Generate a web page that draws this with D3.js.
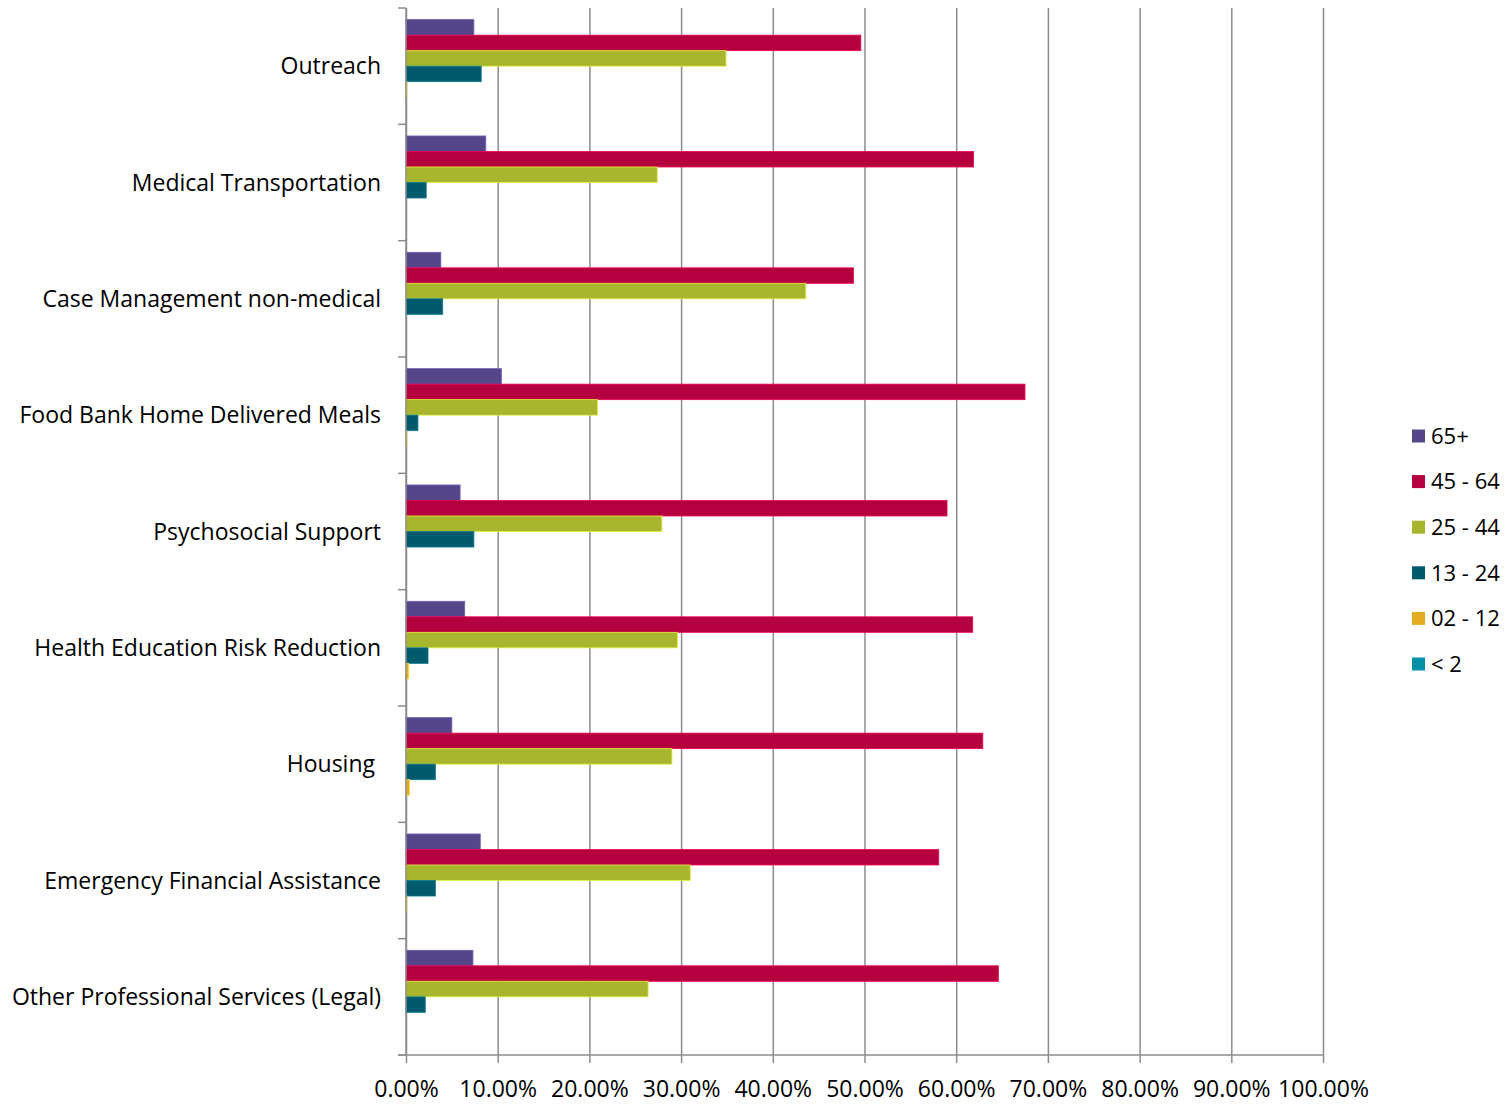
<!DOCTYPE html>
<html>
<head>
<meta charset="utf-8">
<script src="https://cdn.jsdelivr.net/npm/d3@7"></script>
<style>
  body { margin: 0; background: #fff; }
  text { font-family: 'Open Sans', 'Noto Sans', sans-serif; fill: #000; }
</style>
</head>
<body>
<svg id="chart" width="1506" height="1105"></svg>
<script>
// categories, top to bottom
const categories = [
  'Outreach',
  'Medical Transportation',
  'Case Management non-medical',
  'Food Bank Home Delivered Meals',
  'Psychosocial Support',
  'Health Education Risk Reduction',
  'Housing ',
  'Emergency Financial Assistance',
  'Other Professional Services (Legal)'
]
const seriesNames = ['65+', '45 - 64', '25 - 44', '13 - 24', '02 - 12', '< 2']
const seriesColors = ['#55468a', '#b5003f', '#a8b52f', '#005a6c', '#e6ab25', '#0090a8']

// percent values per series, in category order
const age65 = [7.4, 8.7, 3.8, 10.4, 5.9, 6.4, 5.0, 8.1, 7.3]
const age45 = [49.6, 61.9, 48.8, 67.5, 59.0, 61.8, 62.9, 58.1, 64.6]
const age25 = [34.9, 27.4, 43.6, 20.9, 27.9, 29.6, 29.0, 31.0, 26.4]
const age13 = [8.2, 2.2, 4.0, 1.3, 7.4, 2.4, 3.2, 3.2, 2.1]
const age02 = [0.1, 0, 0, 0.1, 0, 0.3, 0.4, 0.1, 0]
const ageLt2 = [0, 0, 0, 0, 0, 0, 0, 0, 0]
const seriesValues = [age65, age45, age25, age13, age02, ageLt2]

const xTicks = [0, 10, 20, 30, 40, 50, 60, 70, 80, 90, 100]

const margin = { left: 406, top: 8 }
const gridWidth = 917
const gridHeight = 1047

const svg = d3.select('#chart')
const g = svg.append('g').attr('transform', `translate(${margin.left}, ${margin.top})`)

const x = d3.scaleLinear().domain([0, 100]).range([0, gridWidth])
const y = d3.scaleBand().domain(categories).range([0, gridHeight]).padding(0)
const ySub = d3.scaleBand().domain(seriesNames).range([0, y.bandwidth()])
  .paddingInner(0).paddingOuter(0.75)

// vertical grid lines + x axis
const xaxis = d3.axisBottom(x).tickValues(xTicks).tickSize(8).tickSizeOuter(0)
  .tickFormat(d => d.toFixed(2) + '%')
const xaxisg = g.append('g')
  .attr('transform', `translate(0, ${gridHeight})`)
  .call(xaxis)
xaxisg.select('.domain').remove()
xaxisg.selectAll('g.tick line').style('stroke', '#8c8c8c').style('stroke-width', 1.5)
xaxisg.selectAll('g.tick')
  .append('line')
  .attr('y1', 0)
  .attr('y2', -gridHeight)
  .style('stroke', '#8c8c8c')
  .style('stroke-width', 1.5)
xaxisg.selectAll('g.tick text')
  .attr('y', 26)
  .attr('dy', '0.71em')
  .style('font-size', '23px')

// horizontal baseline
g.append('line')
  .attr('x1', -8).attr('x2', gridWidth)
  .attr('y1', gridHeight).attr('y2', gridHeight)
  .style('stroke', '#8c8c8c').style('stroke-width', 1.5)

// bars
const groups = g.selectAll('g.cat')
  .data(categories)
  .enter()
  .append('g')
  .classed('cat', true)
  .attr('transform', d => `translate(0, ${y(d)})`)

groups.selectAll('rect')
  .data((d, i) => seriesNames.map((s, j) => ({ s, j, v: seriesValues[j][i] })))
  .enter()
  .append('rect')
  .attr('x', 0)
  .attr('y', d => ySub(d.s))
  .attr('width', d => x(d.v))
  .attr('height', ySub.bandwidth())
  .style('fill', d => seriesColors[d.j])
  .style('stroke', d => d3.color(seriesColors[d.j]).brighter(0.8))
  .style('stroke-width', d => d.v > 0 ? 0.8 : 0)

// left axis with ticks at band boundaries
g.append('line')
  .attr('x1', 0).attr('x2', 0)
  .attr('y1', 0).attr('y2', gridHeight)
  .style('stroke', '#8c8c8c').style('stroke-width', 1.5)
g.selectAll('line.ytick')
  .data(d3.range(categories.length + 1))
  .enter()
  .append('line')
  .classed('ytick', true)
  .attr('x1', -8).attr('x2', 0)
  .attr('y1', d => d * y.step()).attr('y2', d => d * y.step())
  .style('stroke', '#8c8c8c').style('stroke-width', 1.5)

// labels keep their trailing space, like "Housing "
g.selectAll('text.ylabel')
  .data(categories)
  .enter()
  .append('text')
  .classed('ylabel', true)
  .attr('x', -25)
  .attr('y', d => y(d) + y.bandwidth() / 2)
  .attr('dy', '0.35em')
  .attr('text-anchor', 'end')
  .style('font-size', '23px')
  .style('white-space', 'pre')
  .text(d => d)

// legend
const legend = svg.append('g').attr('transform', 'translate(1412, 436)')
const item = legend.selectAll('g')
  .data(seriesNames)
  .enter()
  .append('g')
  .attr('transform', (d, i) => `translate(0, ${i * 45.6})`)
item.append('rect')
  .attr('x', 0).attr('y', -6.5)
  .attr('width', 13).attr('height', 13)
  .style('fill', (d, i) => seriesColors[i])
item.append('text')
  .attr('x', 19)
  .attr('dy', '0.35em')
  .style('font-size', '22px')
  .text(d => d)
</script>
</body>
</html>
